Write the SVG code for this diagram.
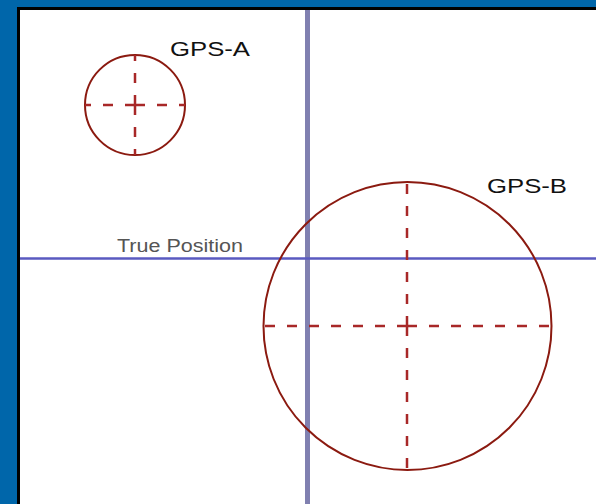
<svg xmlns="http://www.w3.org/2000/svg" width="596" height="504" viewBox="0 0 596 504">
<style>
.circ{fill:none;stroke:#8b1a10;stroke-width:2}
.dash{stroke:#a82828;stroke-width:2.5;stroke-dasharray:10 12}
.lbl{font-family:"Liberation Sans",Arial,sans-serif;fill:#111}
</style>
<rect x="0" y="0" width="596" height="504" fill="#0066aa"/>
<rect x="17" y="7" width="579" height="497" fill="#000"/>
<rect x="20" y="10" width="576" height="494" fill="#fff"/>
<g id="axes">
<line x1="307.5" y1="10" x2="307.5" y2="504" stroke="#8080b0" stroke-width="5"/>
<line x1="20" y1="258.5" x2="596" y2="258.5" stroke="#5a5ac0" stroke-width="2.5"/>
</g>
<g id="gps-a">
<circle class="circ" cx="135" cy="105" r="50"/>
<line class="dash" x1="135" y1="105" x2="135" y2="55"/>
<line class="dash" x1="135" y1="105" x2="135" y2="155"/>
<line class="dash" x1="135" y1="105" x2="85" y2="105"/>
<line class="dash" x1="135" y1="105" x2="185" y2="105"/>
<text class="lbl" x="170" y="56" font-size="21" textLength="80" lengthAdjust="spacingAndGlyphs">GPS-A</text>
</g>
<g id="gps-b">
<circle class="circ" cx="407.5" cy="326" r="144"/>
<line class="dash" x1="407" y1="326" x2="407" y2="182"/>
<line class="dash" x1="407" y1="326" x2="407" y2="470"/>
<line class="dash" x1="407" y1="326" x2="263" y2="326"/>
<line class="dash" x1="407" y1="326" x2="552" y2="326"/>
<text class="lbl" x="487" y="193" font-size="21" textLength="80" lengthAdjust="spacingAndGlyphs">GPS-B</text>
</g>
<g id="true-position">
<text class="lbl" x="117" y="252" font-size="18" textLength="126" lengthAdjust="spacingAndGlyphs" style="fill:#555">True Position</text>
</g>
</svg>
